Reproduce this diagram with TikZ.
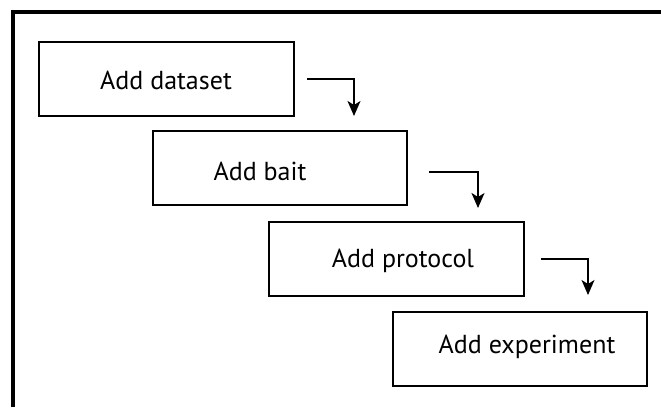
\documentclass[tikz,border=0pt]{standalone}
\usepackage{fontspec}
\setmainfont{PT Sans}
\usetikzlibrary{arrows.meta}
\tikzset{
  stepbox/.style={draw=black, line width=2.1pt, minimum width=#1, minimum height=74pt, inner sep=0pt, anchor=north west},
  steplabel/.style={font=\fontsize{26}{30}\selectfont, inner sep=0pt},
  flow/.style={line width=1.6pt, -{Stealth[length=15pt,width=13pt,inset=4pt]}},
  frame/.style={line width=3.4pt}
}
\begin{document}
\begin{tikzpicture}[x=1pt,y=-1pt]
\useasboundingbox (0,0) rectangle (661,407);
\fill[white] (0,0) rectangle (661,407);
\coordinate (fbl) at (13,407);
\coordinate (ftl) at (13,12);
\coordinate (ftr) at (661,12);
\draw[frame] (fbl) -- (ftl) -- (ftr);

\node[stepbox=255pt] (b1) at (38,41) {};
\node[stepbox=254pt] (b2) at (152,130) {};
\node[stepbox=255pt] (b3) at (268,221) {};
\node[stepbox=254pt] (b4) at (392,311) {};

\node[steplabel] (t1) at (166,80) {Add dataset};
\node[steplabel] (t2) at (260,171) {Add bait};
\node[steplabel] (t3) at (403,261) {Add protocol};
\node[steplabel] (t4) at (527,347) {Add experiment};

\coordinate (a1s) at (307,79);
\coordinate (a1c) at (354,79);
\coordinate (a1e) at (354,116);
\coordinate (a2s) at (429,172);
\coordinate (a2c) at (478,172);
\coordinate (a2e) at (478,208);
\coordinate (a3s) at (541,259);
\coordinate (a3c) at (588,259);
\coordinate (a3e) at (588,295);
\draw[flow] (a1s) -- (a1c) -- (a1e);
\draw[flow] (a2s) -- (a2c) -- (a2e);
\draw[flow] (a3s) -- (a3c) -- (a3e);
\end{tikzpicture}
\end{document}
